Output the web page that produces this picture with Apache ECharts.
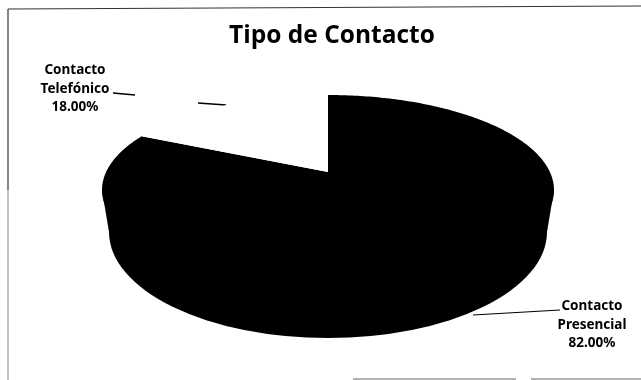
<!DOCTYPE html>
<html>
<head>
<meta charset="utf-8">
<script src="https://cdn.jsdelivr.net/npm/echarts@6/dist/echarts.min.js"></script>
<style>
html, body { margin: 0; padding: 0; background: #fff; }
#main { width: 641px; height: 380px; }
</style>
</head>
<body>
<div id="main"></div>
<script>
const categories = ['Contacto Presencial', 'Contacto Telefónico'];
const labelLines = [['Contacto', 'Presencial'], ['Contacto', 'Telefónico']];
const shares = [82, 18];
const sliceColors = ['#000000', '#ffffff'];

let myChart = echarts.init(document.getElementById('main'));
const total = shares.reduce((a, b) => a + b, 0);
// top face: apex sits above the ellipse centre because of the perspective
const apexX = 328, apexY = 172;
const faceCy = 190, faceRx = 226, faceRy = 95, tilt = 92;
// front wall
const wallCy = 232, wallRx = 219, wallRy = 106;

function rimPoint(share) {
    const a = share / total * Math.PI * 2;
    const dx = Math.sin(a) * faceRx, dy = -Math.cos(a) * tilt;
    const oy = apexY - faceCy;
    const qa = dx * dx / (faceRx * faceRx) + dy * dy / (faceRy * faceRy);
    const qb = 2 * oy * dy / (faceRy * faceRy);
    const qc = oy * oy / (faceRy * faceRy) - 1;
    const t = (-qb + Math.sqrt(qb * qb - 4 * qa * qc)) / (2 * qa);
    return [apexX + t * dx, apexY + t * dy];
}

function renderSlice(params, api) {
    let before = 0;
    for (let i = 0; i < params.dataIndex; i++) before += shares[i];
    const size = api.value(0);
    const color = sliceColors[params.dataIndex];
    const points = [[apexX, apexY]];
    for (let s = 0; s <= size; s += 0.25) points.push(rimPoint(before + s));
    const children = [];
    if (params.dataIndex === 0) {
        // wall sits under the top face
        children.push({
            type: 'sector',
            shape: { cx: apexX, cy: wallCy, r0: 0, r: wallRx, startAngle: 0, endAngle: Math.PI, clockwise: true },
            originX: apexX, originY: wallCy, scaleY: wallRy / wallRx,
            style: { fill: color }
        });
        children.push({
            type: 'polygon',
            shape: { points: [
                [apexX - faceRx, faceCy], [apexX + faceRx, faceCy],
                [apexX + wallRx, wallCy], [apexX - wallRx, wallCy]
            ] },
            style: { fill: color }
        });
    }
    children.push({ type: 'polygon', shape: { points: points }, style: { fill: color } });
    return { type: 'group', children: children };
}

function pieLabel(i, x, y) {
    return {
        type: 'text', x: x, y: y,
        style: {
            text: labelLines[i].join('\n') + '\n' + shares[i].toFixed(2) + '%',
            font: 'bold 13.5px "Noto Sans"', lineHeight: 18.5,
            fill: '#000', align: 'center', verticalAlign: 'middle'
        }
    };
}

function line(x1, y1, x2, y2, width, color) {
    return {
        type: 'line',
        shape: { x1: x1, y1: y1, x2: x2, y2: y2 },
        style: { stroke: color, lineWidth: width }
    };
}

let option = {
    animation: false,
    backgroundColor: '#fff',
    title: {
        text: 'Tipo de Contacto', left: 327, top: 19, textAlign: 'center',
        textStyle: { fontFamily: 'Open Sans', fontWeight: 'bold', fontSize: 24.5, color: '#000' }
    },
    series: [{
        type: 'custom',
        coordinateSystem: 'none',
        renderItem: renderSlice,
        data: shares.map((v, i) => ({ name: categories[i], value: [v] }))
    }],
    graphic: [
        line(8, 9, 8, 190, 1.2, '#333'),
        line(8, 190, 8, 380, 1.2, '#999'),
        line(8, 9, 641, 6, 1.2, '#333'),
        line(353, 379, 516, 379, 1, '#666'),
        line(531, 379, 641, 379, 1, '#666'),
        line(113, 93, 135, 95, 1.5, '#000'),
        line(198, 103, 226, 105, 1.5, '#000'),
        line(473, 315, 560, 310, 1.2, '#000'),
        pieLabel(1, 75, 89),
        pieLabel(0, 592, 325)
    ]
};
myChart.setOption(option, true);
</script>
</body>
</html>
